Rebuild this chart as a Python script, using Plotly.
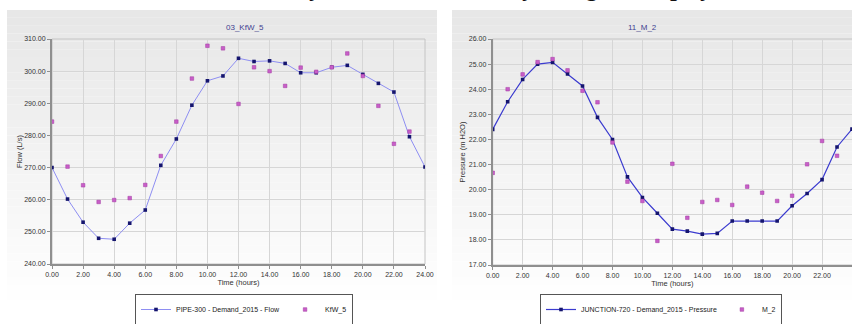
import plotly.graph_objects as go

W, H = 852, 324

# ---------------- data ----------------
hours = list(range(25))
obs_hours = list(range(24))

flow_model = [270.0, 260.2, 253.0, 248.0, 247.7, 252.7, 256.8, 270.7, 278.9, 289.4,
              297.0, 298.5, 304.0, 303.0, 303.2, 302.4, 299.5, 299.5, 301.2, 301.8,
              299.0, 296.2, 293.5, 279.6, 270.2]
flow_obs = [284.3, 270.3, 264.5, 259.3, 259.9, 260.5, 264.6, 273.6, 284.3, 297.7,
            307.9, 307.1, 289.8, 301.2, 300.0, 295.4, 301.1, 299.8, 301.2, 305.5,
            298.5, 289.2, 277.4, 281.2]

press_model = [22.40, 23.50, 24.39, 25.00, 25.07, 24.61, 24.13, 22.88, 22.00, 20.51,
               19.69, 19.06, 18.43, 18.35, 18.23, 18.26, 18.75, 18.75, 18.75, 18.75,
               19.36, 19.85, 20.40, 21.70, 22.41]
press_obs = [20.67, 24.00, 24.59, 25.08, 25.20, 24.75, 23.94, 23.48, 21.88, 20.32,
             19.55, 17.96, 21.03, 18.88, 19.51, 19.59, 19.39, 20.12, 19.88, 19.55,
             19.76, 21.01, 21.94, 21.35]

left_title = "03_KfW_5"
right_title = "11_M_2"
left_names = ["PIPE-300 - Demand_2015 - Flow", "KfW_5"]
right_names = ["JUNCTION-720 - Demand_2015 - Pressure", "M_2"]


def px(x):
    return x / W


def py(y):
    return 1 - y / H


fig = go.Figure()

LINE_L = "#8e8ef2"
LINE_R = "#3b3bcf"
NAVY = "#15156e"
PINK = "#c85ec8"
MS = 3.6

fig.add_trace(go.Scatter(x=hours, y=flow_model, mode="lines+markers", name=left_names[0],
                         line=dict(color=LINE_L, width=1),
                         marker=dict(symbol="square", size=MS, color=NAVY),
                         xaxis="x", yaxis="y", legend="legend"))
fig.add_trace(go.Scatter(x=obs_hours, y=flow_obs, mode="markers", name=left_names[1],
                         marker=dict(symbol="square", size=MS, color=PINK,
                                     line=dict(color="#a23aa2", width=0.5)),
                         xaxis="x", yaxis="y", legend="legend"))
fig.add_trace(go.Scatter(x=hours, y=press_model, mode="lines+markers", name=right_names[0],
                         line=dict(color=LINE_R, width=1.2),
                         marker=dict(symbol="square", size=MS, color=NAVY),
                         xaxis="x2", yaxis="y2", legend="legend2"))
fig.add_trace(go.Scatter(x=obs_hours, y=press_obs, mode="markers", name=right_names[1],
                         marker=dict(symbol="square", size=MS, color=PINK,
                                     line=dict(color="#a23aa2", width=0.5)),
                         xaxis="x2", yaxis="y2", legend="legend2"))

# ---------------- background panels (gradient bands) ----------------
shapes = []
panels = [(7, 437), (452, 852)]
top, bot = 10, 324
n = 40
for (x0, x1) in panels:
    for i in range(n):
        y0 = top + (bot - top) * i / n
        y1 = top + (bot - top) * (i + 1) / n
        t = min(1.0, (i + 0.5) / n / 0.92)
        c = int(231 + (255 - 231) * t)
        col = f"rgb({c},{c},{c})"
        shapes.append(dict(type="rect", xref="paper", yref="paper",
                           x0=px(x0), x1=px(x1), y0=py(y0), y1=py(y1),
                           fillcolor=col, line=dict(width=0), layer="below"))

# plot frames (thin)
for (x0, x1, y0, y1) in [(52, 425, 39, 264), (492.7, 853, 39, 265)]:
    shapes.append(dict(type="rect", xref="paper", yref="paper",
                       x0=px(x0), x1=px(x1), y0=py(y0), y1=py(y1),
                       fillcolor="rgba(0,0,0,0)", line=dict(width=1, color="#c4c4c4"),
                       layer="below"))

tickfont = dict(family="Liberation Sans, Arial, sans-serif", size=7, color="#333333")
titlefont = dict(family="Liberation Sans, Arial, sans-serif", size=7.5, color="#333333")

common_x = dict(range=[0, 24], dtick=2, tick0=0, tickformat=".2f", showgrid=True,
                gridcolor="#d6d6d6", gridwidth=1, zeroline=False, showline=True,
                linecolor="#8f8f8f", linewidth=2, ticks="outside", ticklen=3,
                tickcolor="#8f8f8f", tickfont=tickfont, automargin=False)
common_y = dict(tickformat=".2f", showgrid=True, gridcolor="#d6d6d6", gridwidth=1,
                zeroline=False, showline=True, linecolor="#8f8f8f", linewidth=2,
                ticks="outside", ticklen=3, tickcolor="#8f8f8f", tickfont=tickfont,
                automargin=False)

layout_annotations = [
    dict(text=left_title, x=px(224), y=py(21), xref="paper", yref="paper",
         showarrow=False, font=dict(family="Liberation Sans, Arial", size=8, color="#3f3f90")),
    dict(text=right_title, x=px(659), y=py(21), xref="paper", yref="paper",
         showarrow=False, font=dict(family="Liberation Sans, Arial", size=8, color="#3f3f90")),
]

# cropped heading text above the panels (only descenders visible)
for ch, xx in [("y", 316), ("y", 529), ("g", 593), ("p", 677), ("y", 707)]:
    layout_annotations.append(dict(
        text=f"<b><i>{ch}</i></b>", x=px(xx), y=py(2), xref="paper", yref="paper",
        xanchor="center", yanchor="bottom", showarrow=False, borderpad=0,
        font=dict(family="Liberation Serif, Times New Roman, serif", size=24, color="#111111")))

fig.update_layout(
    width=W, height=H,
    margin=dict(l=0, r=0, t=0, b=0, autoexpand=False),
    paper_bgcolor="white", plot_bgcolor="rgba(0,0,0,0)",
    showlegend=True,
    xaxis=dict(domain=[px(52), px(425)], anchor="y",
               title=dict(text="Time (hours)", font=titlefont, standoff=2), **common_x),
    yaxis=dict(domain=[py(264), py(39)], anchor="x", range=[240, 310], dtick=10,
               title=dict(text="Flow (L/s)", font=titlefont, standoff=0), **common_y),
    xaxis2=dict(domain=[px(492.7), 1.0], anchor="y2",
                title=dict(text="Time (hours)", font=titlefont, standoff=2), **common_x),
    yaxis2=dict(domain=[py(265), py(39)], anchor="x2", range=[17, 26], dtick=1,
                title=dict(text="Pressure (m H2O)", font=titlefont, standoff=2), **common_y),
    legend=dict(orientation="h", x=px(135), y=py(309.5), xanchor="left", yanchor="middle",
                bgcolor="white", bordercolor="#555555", borderwidth=1,
                font=dict(family="Liberation Sans, Arial", size=7, color="#222222"),
                itemwidth=30, tracegroupgap=0),
    legend2=dict(orientation="h", x=px(540), y=py(309.5), xanchor="left", yanchor="middle",
                 bgcolor="white", bordercolor="#555555", borderwidth=1,
                 font=dict(family="Liberation Sans, Arial", size=7, color="#222222"),
                 itemwidth=30, tracegroupgap=0),
    shapes=shapes,
    annotations=layout_annotations,
)

fig.write_html("out.html", config={"displayModeBar": False},
               post_script="document.body.style.margin='0px';")
